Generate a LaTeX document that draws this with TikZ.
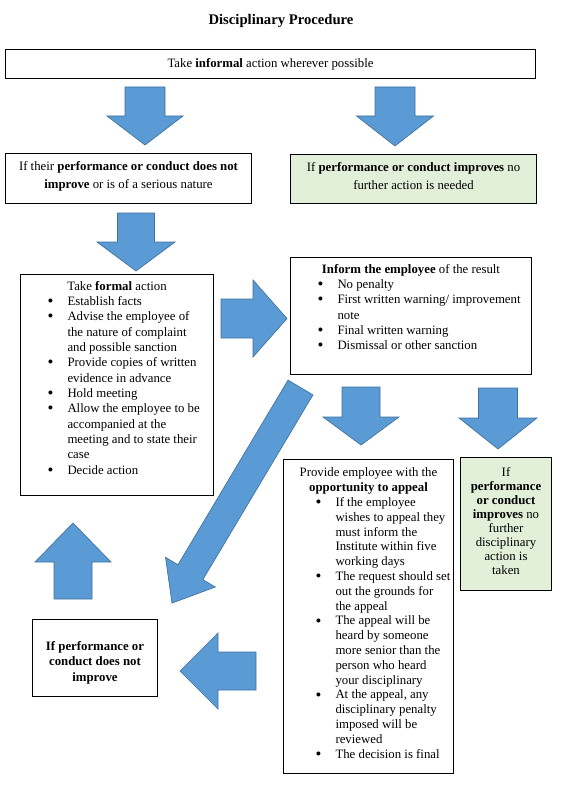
\documentclass[tikz,border=0pt]{standalone}
\usepackage{fontspec}
\setmainfont{Liberation Serif}
\newlength\px
\setlength\px{0.75pt}
% box content: width, height, top padding (px), text
\newcommand\boxin[4]{\parbox[c][#2\px][t]{#1\px}{\vspace*{#3\px}#4}}
\newcommand\bitem[1]{\par\noindent\llap{\makebox[20\px][l]{\raisebox{-0.2ex}{\fontsize{12.5}{12}\selectfont\textbullet}}}#1\par}
\newcommand\listat[1]{\raggedright\leftskip=#1\px\rightskip=-40\px plus 1fil}
\definecolor{arrowblue}{HTML}{5B9BD5}
\definecolor{arrowedge}{HTML}{41719C}
\definecolor{softgreen}{HTML}{E2EFD9}
\tikzset
{
  box/.style={draw,line width=0.75pt,anchor=north west,inner sep=0pt,font=\fontsize{9.6}{11.5}\selectfont},
  greenbox/.style={box,fill=softgreen},
  pics/blockarrow/.style n args={4}{code=%length, head length, half shaft, half head
  {
    \fill[arrowblue,draw=arrowedge,line width=0.5pt] (0,-#3) -- (#1-#2,-#3) -- (#1-#2,-#4) -- (#1,0)
      -- (#1-#2,#4) -- (#1-#2,#3) -- (0,#3) -- cycle;
  }}
}
\begin{document}
\begin{tikzpicture}[x=0.75pt,y=-0.75pt]
\useasboundingbox (0,0) rectangle (561,788);
\node[font=\bfseries\fontsize{11}{13}\selectfont] (title) at (281,20.5) {Disciplinary Procedure};
\node[box] (informal) at (5,49) {\boxin{530}{29}{8.5}{\centering Take \textbf{informal} action wherever possible}};
\node[box] (worse) at (5,153) {\boxin{246}{50}{7.5}{\fontsize{9.6}{13.5}\selectfont\centering
  If their \textbf{performance or conduct does not}\\ \textbf{improve} or is of a serious nature}};
\node[greenbox] (better) at (290,154) {\boxin{246}{49}{7.5}{\fontsize{9.6}{13.5}\selectfont\centering
  If \textbf{performance or conduct improves} no\\ further action is needed}};
\node[box] (formal) at (20,274) {\boxin{193}{221}{6.5}{{\centering Take \textbf{formal} action\par}
  \listat{47}
  \bitem{Establish facts}
  \bitem{Advise the employee of\\ the nature of complaint\\ and possible sanction}
  \bitem{Provide copies of written\\ evidence in advance}
  \bitem{Hold meeting}
  \bitem{Allow the employee to be\\ accompanied at the\\ meeting and to state their\\ case}
  \bitem{Decide action}}};
\node[box] (inform) at (290,257) {\boxin{241}{117}{6.5}{{\centering\textbf{Inform the employee} of the result\par}
  \listat{47}
  \bitem{No penalty}
  \bitem{First written warning/ improvement\\ note}
  \bitem{Final written warning}
  \bitem{Dismissal or other sanction}}};
\node[box] (appeal) at (283,459) {\boxin{170}{314}{8.5}{\fontsize{9.6}{11.1}\selectfont
  {\centering Provide employee with the\\ \textbf{opportunity to appeal}\par}
  \listat{52}
  \bitem{If the employee\\ wishes to appeal they\\ must inform the\\ Institute within five\\ working days}
  \bitem{The request should set\\ out the grounds for\\ the appeal}
  \bitem{The appeal will be\\ heard by someone\\ more senior than the\\ person who heard\\ your disciplinary}
  \bitem{At the appeal, any\\ disciplinary penalty\\ imposed will be\\ reviewed}
  \bitem{The decision is final}}};
\node[greenbox] (improves) at (460,457) {\boxin{91}{133}{9.5}{\fontsize{9.6}{10.5}\selectfont\centering
  If\\ \textbf{performance}\\ \textbf{or conduct}\\ \textbf{improves} no\\ further\\ disciplinary\\ action is\\ taken}};
\node[box] (notimprove) at (32,619) {\boxin{125}{77}{22}{\centering\bfseries If performance or\\ conduct does not\\ improve}};
% block arrows: tail x/y, angle, length, head, half shaft, half head
\foreach \ax/\ay/\ang/\len/\hd/\sw/\hw in {145/87/-90/58/29/20/38, 395/87/-90/59/30/20/38.5,
  136/213/-90/58/29/18.5/39, 221/318.5/0/66/34/19.5/38.5, 361/387/-90/58/28/19/38,
  498/388/-90/61/31/19.5/39, 73/599/90/76/39/19/38, 256/671/180/76/38/19/38,
  300.5/387.5/-120.8/251/36/14.5/29}
{
  \pic[rotate=\ang] at (\ax,\ay) {blockarrow={\len}{\hd}{\sw}{\hw}};
}
\end{tikzpicture}
\end{document}
